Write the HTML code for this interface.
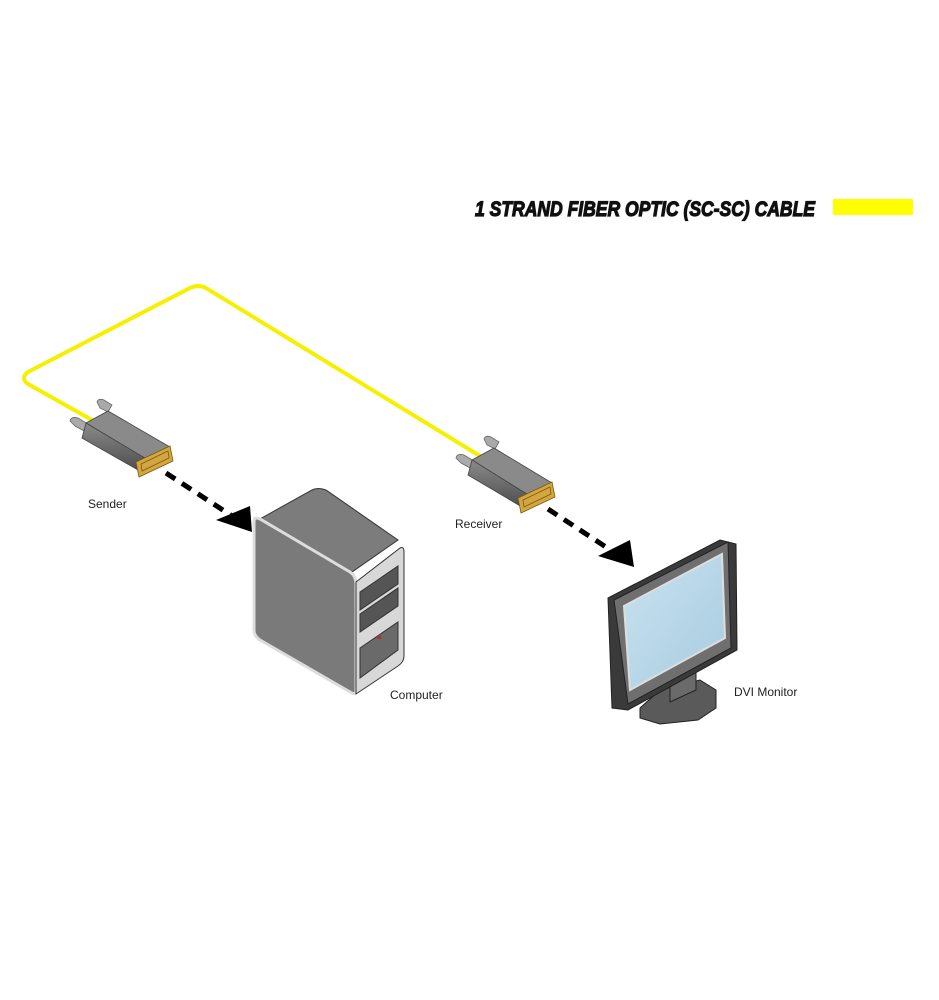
<!DOCTYPE html>
<html><head><meta charset="utf-8"><style>
html,body{margin:0;padding:0;background:#fff;width:939px;height:1000px;overflow:hidden}
svg{display:block}
text{font-family:"Liberation Sans",sans-serif}
</style></head><body>
<svg width="939" height="1000" viewBox="0 0 939 1000" xmlns="http://www.w3.org/2000/svg">
<defs>
<linearGradient id="dg" x1="0" y1="0" x2="0" y2="1"><stop offset="0" stop-color="#8a8a8a"/><stop offset="1" stop-color="#4a4a4a"/></linearGradient>
<linearGradient id="scr" x1="0" y1="0" x2="1" y2="1"><stop offset="0" stop-color="#c8e2f0"/><stop offset="1" stop-color="#a8cce0"/></linearGradient>
</defs>
<text x="475" y="216" font-size="21" font-weight="bold" font-style="italic" textLength="340" lengthAdjust="spacingAndGlyphs" fill="#111" stroke="#111" stroke-width="1.2">1 STRAND FIBER OPTIC (SC-SC) CABLE</text>
<rect x="833" y="199" width="80" height="16" fill="#ffff00"/>

<path d="M92,420 L28,384 Q20,378 28,372 L190,288 Q198,284 206,288 L480,456" fill="none" stroke="#f5f000" stroke-width="4" stroke-linejoin="round"/>

<g>
<path d="M100,408 L97,402 Q98,398 104,400 L112,405 L108,412Z" fill="#aaa" stroke="#666" stroke-width="0.8"/>
<path d="M75,426 L70,421 Q71,416 78,418 L88,424 L84,431Z" fill="#aaa" stroke="#666" stroke-width="0.8"/>
<path d="M86,423 L108,411 L170,447 L148,460 Z" fill="#8a8a8a" stroke="#444" stroke-width="0.8"/>
<path d="M86,423 L148,460 L145,474 L82,438 Z" fill="url(#dg)" stroke="#444" stroke-width="0.8"/>
<path d="M148,460 L170,447 L172,461 L145,474 Z" fill="#555"/>
<path d="M136,462 L170,446 L173,461 L139,477 Z" fill="#d4a640" stroke="#7a5a10" stroke-width="0.8"/>
<path d="M141,464 L168,451 L169,458 L142,471 Z" fill="none" stroke="#7a5a10" stroke-width="0.8"/>
</g>
<g>
<path d="M487,445 L484,439 Q485,435 491,437 L499,442 L495,449Z" fill="#aaa" stroke="#666" stroke-width="0.8"/>
<path d="M461,463 L456,458 Q457,453 464,455 L474,461 L470,468Z" fill="#aaa" stroke="#666" stroke-width="0.8"/>
<path d="M472,460 L494,448 L552,483 L530,496 Z" fill="#8a8a8a" stroke="#444" stroke-width="0.8"/>
<path d="M472,460 L530,496 L527,510 L468,475 Z" fill="url(#dg)" stroke="#444" stroke-width="0.8"/>
<path d="M518,498 L552,482 L555,497 L521,513 Z" fill="#d4a640" stroke="#7a5a10" stroke-width="0.8"/>
<path d="M523,500 L550,487 L551,494 L524,507 Z" fill="none" stroke="#7a5a10" stroke-width="0.8"/>
</g>

<line x1="166" y1="473" x2="232" y2="516" stroke="#000" stroke-width="5" stroke-dasharray="11,8"/>
<path d="M216,520 L250,506 L252,532 Z" fill="#000"/>
<line x1="548" y1="509" x2="612" y2="551" stroke="#000" stroke-width="5" stroke-dasharray="11,8"/>
<path d="M598,556 L630,540 L634,567 Z" fill="#000"/>

<g stroke="#333" stroke-width="1">
<path d="M258,520 L312,490 Q318,487 326,490 L398,540 L352,572 Z" fill="#7c7c7c"/>
<path d="M254,522 Q254,516 260,519 L350,572 Q356,576 356,584 L356,690 Q356,696 350,692 L260,640 Q254,636 254,630 Z" fill="#7a7a7a" stroke="#ddd" stroke-width="3"/>
<path d="M356,582 L400,548 Q404,546 404,552 L404,656 Q404,662 398,666 L356,694 Z" fill="#d8d8d8"/>
<path d="M360,592 L398,566 L398,584 L360,610 Z" fill="#555"/>
<path d="M360,614 L398,588 L398,606 L360,632 Z" fill="#555"/>
<path d="M360,648 L398,622 L398,650 L360,678 Z" fill="#6a6a6a"/>
</g>
<rect x="377" y="636" width="4" height="3" fill="#a33"/>

<g stroke="#222" stroke-width="1">
<path d="M640,708 L660,690 L700,680 L716,690 L716,708 L698,720 L660,724 L640,718 Z" fill="#5a5a5a"/>
<path d="M670,672 L696,660 L696,690 L670,702 Z" fill="#6a6a6a"/>
<path d="M608,598 L720,540 L736,544 L737,650 L628,710 L612,708 Z" fill="#3a3a3a"/>
<path d="M614,600 L728,542 L731,648 L628,704 Z" fill="#6f6f6f"/>
<path d="M624,606 L722,554 L725,638 L630,690 Z" fill="url(#scr)" stroke="#ddd" stroke-width="2"/>
</g>

<g font-size="12" fill="#222">
<text x="88" y="508">Sender</text>
<text x="390" y="699">Computer</text>
<text x="455" y="528">Receiver</text>
<text x="734" y="696">DVI Monitor</text>
</g>
</svg>
</body></html>
